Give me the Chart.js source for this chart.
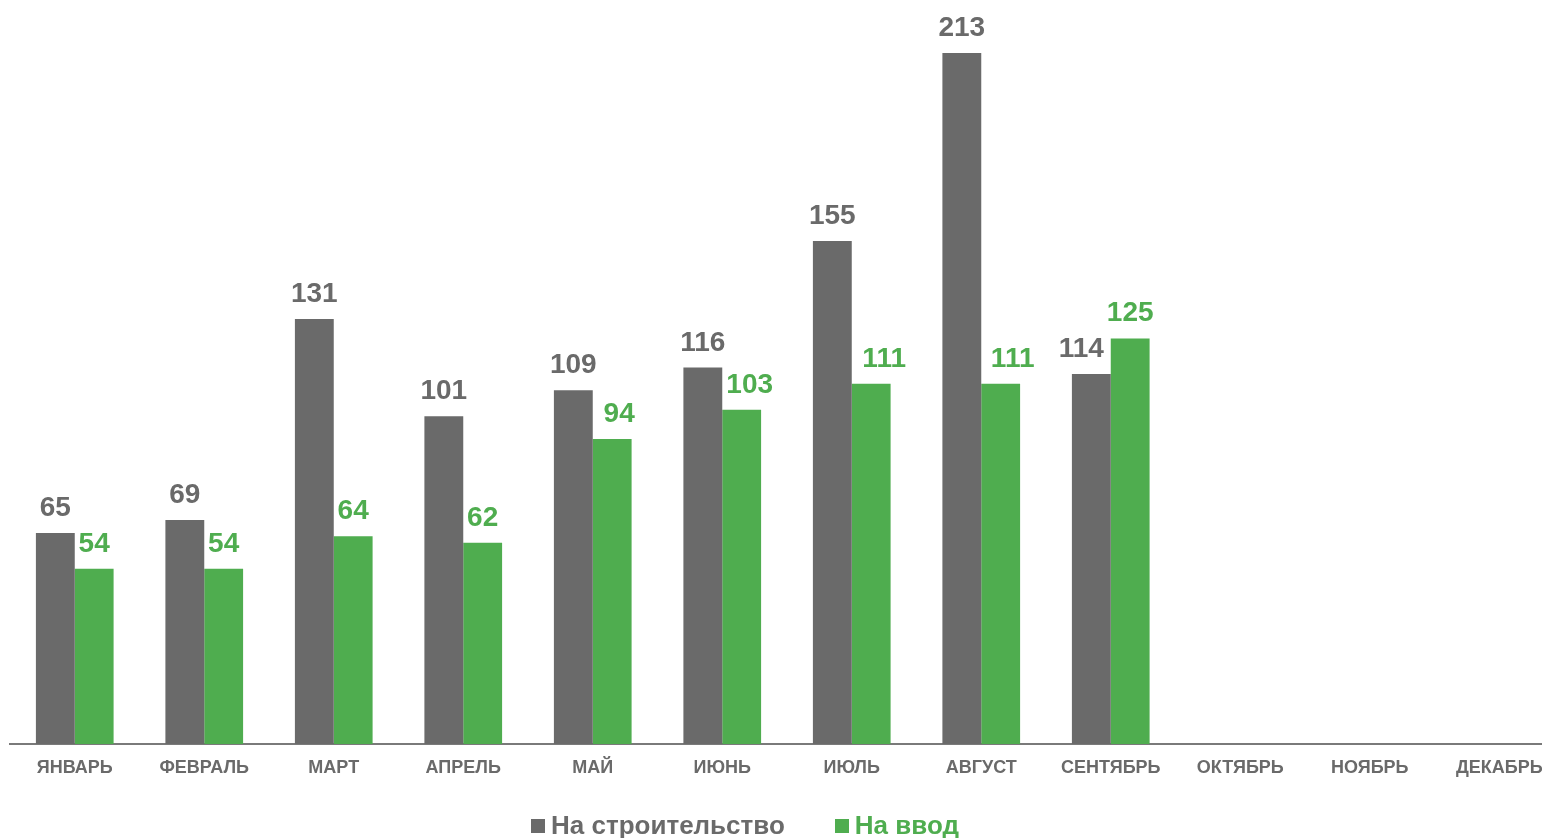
<!DOCTYPE html>
<html>
<head>
<meta charset="utf-8">
<script src="https://cdn.jsdelivr.net/npm/chart.js@4.4.0/dist/chart.umd.min.js"></script>
<style>
    html, body { margin: 0; padding: 0; background: #fff; overflow: hidden; }
    #wrap { position: relative; width: 1566px; height: 838px; }
    #legend { position: absolute; left: 531px; top: 809px; display: flex; font: bold 26px 'Liberation Sans', Arial, sans-serif; line-height: 32px; }
    #legend .item { display: flex; align-items: center; margin-right: 50px; }
    #legend .box { width: 14px; height: 14px; margin-right: 6px; margin-top: 1px; }
</style>
</head>
<body>
<div id="wrap">
    <canvas id="permits"></canvas>
    <div id="legend"></div>
</div>
<script>
var months = ['ЯНВАРЬ','ФЕВРАЛЬ','МАРТ','АПРЕЛЬ','МАЙ','ИЮНЬ','ИЮЛЬ','АВГУСТ','СЕНТЯБРЬ','ОКТЯБРЬ','НОЯБРЬ','ДЕКАБРЬ']
var construction = [65, 69, 131, 101, 109, 116, 155, 213, 114, null, null, null]
var commissioning = [54, 54, 64, 62, 94, 103, 111, 111, 125, null, null, null]
var seriesNames = ['На строительство', 'На ввод']

var GRAY = '#6a6a6a'
var GREEN = '#4fad4f'
var FONT = "'Liberation Sans', Arial, sans-serif"

// labels above bars, some nudged sideways so neighbours don't collide
var labelNudge = [
    [0, 0, 0, 0, 0, 0, 0, 0, -10, 0, 0, 0],
    [0, 0, 0, 0, 7, 8, 13, 12, 0, 0, 0, 0]
]

var barLabels = {
    id: 'barLabels',
    afterDatasetsDraw: function (chart) {
        var ctx = chart.ctx
        ctx.save()
        ctx.font = 'bold 28px ' + FONT
        ctx.textAlign = 'center'
        ctx.textBaseline = 'alphabetic'
        chart.data.datasets.forEach(function (ds, i) {
            var meta = chart.getDatasetMeta(i)
            ctx.fillStyle = ds.backgroundColor
            meta.data.forEach(function (bar, j) {
                var v = ds.data[j]
                if (v == null) return
                ctx.fillText(String(v), bar.x + labelNudge[i][j], bar.y - 17)
            })
        })
        ctx.restore()
    }
}

var ctx = document.getElementById('permits').getContext('2d')
var myChart = new Chart(ctx, {
    type: 'bar',
    data: {
        labels: months,
        datasets: [{
            label: seriesNames[0],
            data: construction,
            backgroundColor: GRAY,
            borderWidth: 0,
            categoryPercentage: 0.6,
            barPercentage: 1.0
        }, {
            label: seriesNames[1],
            data: commissioning,
            backgroundColor: GREEN,
            borderWidth: 0,
            categoryPercentage: 0.6,
            barPercentage: 1.0
        }]
    },
    options: {
        responsive: true,
        maintainAspectRatio: false,
        animation: false,
        layout: {
            padding: { left: 10, right: 2, top: 0, bottom: 54 }
        },
        scales: {
            x: {
                grid: { display: false, drawTicks: false },
                border: { display: true, color: '#7a7a7a', width: 2 },
                ticks: {
                    color: '#6a6a6a',
                    font: { family: FONT, size: 18, weight: 'bold' },
                    padding: 13,
                    maxRotation: 0,
                    autoSkip: false
                },
                afterFit: function (scale) { scale.height = 40 }
            },
            y: {
                display: false,
                min: 0,
                max: 229.3
            }
        },
        plugins: {
            tooltip: { enabled: false },
            legend: { display: false }
        }
    },
    plugins: [barLabels]
})

// legend below the chart
var legendEl = document.getElementById('legend')
myChart.data.datasets.forEach(function (ds) {
    var item = document.createElement('div')
    item.className = 'item'
    item.style.color = ds.backgroundColor
    var box = document.createElement('span')
    box.className = 'box'
    box.style.background = ds.backgroundColor
    item.appendChild(box)
    item.appendChild(document.createTextNode(ds.label))
    legendEl.appendChild(item)
})
</script>
</body>
</html>
